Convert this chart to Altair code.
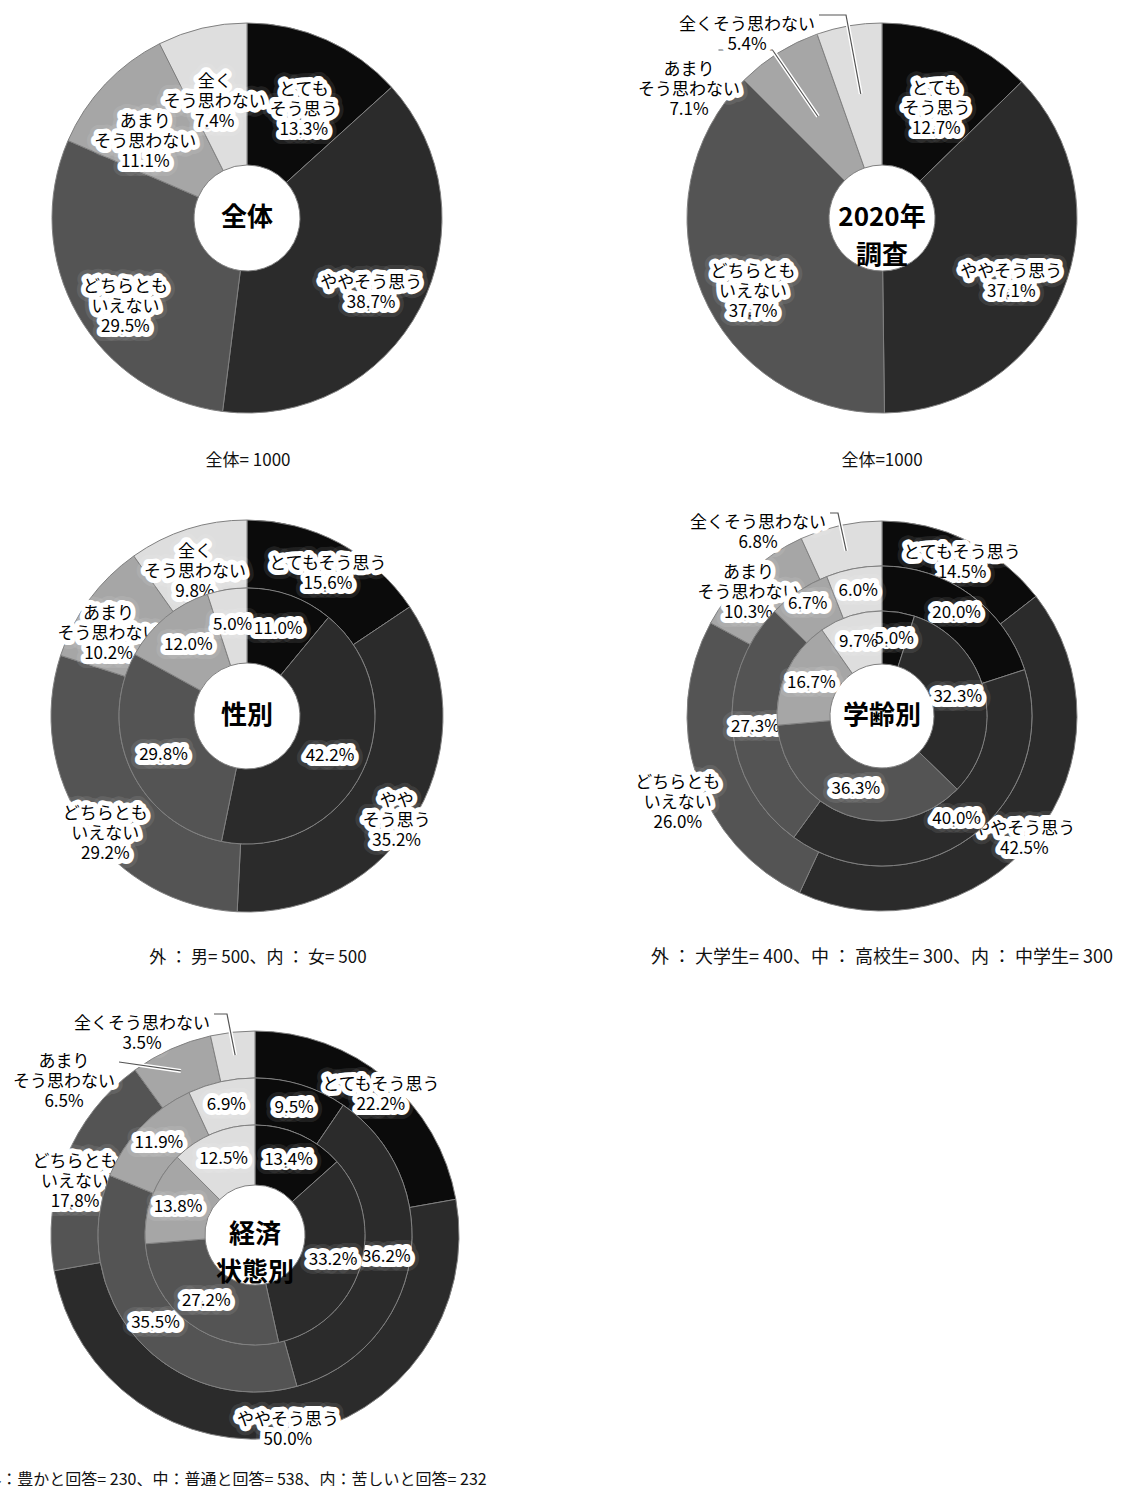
import math
import altair as alt
import pandas as pd

# ---------------- data ----------------
CATEGORIES = ["とてもそう思う", "ややそう思う", "どちらともいえない", "あまりそう思わない", "全くそう思わない"]

ZENTAI = [13.3, 38.7, 29.5, 11.1, 7.4]
Y2020 = [12.7, 37.1, 37.7, 7.1, 5.4]
MALE = [15.6, 35.2, 29.2, 10.2, 9.8]
FEMALE = [11.0, 42.2, 29.8, 12.0, 5.0]
UNIV = [14.5, 42.5, 26.0, 10.3, 6.8]
HIGH = [20.0, 40.0, 27.3, 6.7, 6.0]
JUNIOR = [5.0, 32.3, 36.3, 16.7, 9.7]
RICH = [22.2, 50.0, 17.8, 6.5, 3.5]
NORMAL = [9.5, 36.2, 35.5, 11.9, 6.9]
HARD = [13.4, 33.2, 27.2, 13.8, 12.5]

NAMES_A = ["とても\nそう思う", "ややそう思う", "どちらとも\nいえない", "あまり\nそう思わない", "全く\nそう思わない"]
NAMES_B = ["とても\nそう思う", "ややそう思う", "どちらとも\nいえない", "あまり\nそう思わない", "全くそう思わない"]
NAMES_C = ["とてもそう思う", "やや\nそう思う", "どちらとも\nいえない", "あまり\nそう思わない", "全く\nそう思わない"]
NAMES_D = ["とてもそう思う", "ややそう思う", "どちらとも\nいえない", "あまり\nそう思わない", "全くそう思わない"]

CENTER_TITLES = ["全体", "2020年\n調査", "性別", "学齢別", "経済\n状態別"]
CAPTIONS = [
    "全体=  1000",
    "全体=1000",
    "外 ： 男=  500、内 ： 女=  500",
    "外 ： 大学生=  400、中 ： 高校生=  300、内 ： 中学生=  300",
    "外：豊かと回答= 230、中：普通と回答= 538、内：苦しいと回答= 232",
]

# ---------------- style / layout ----------------
GRAYS = ["#0b0b0b", "#2b2b2b", "#545454", "#a6a6a6", "#dedede"]
FONT = "Noto Sans CJK JP"
LFS = 17
LH = 20

PANELS = [
    dict(cx=247, cy=218, cap=(248, 461, 17), rings=[(ZENTAI, NAMES_A, 53, 195, 140)]),
    dict(cx=882, cy=218, cap=(882, 461, 17), rings=[(Y2020, NAMES_B, 53, 195, 140)]),
    dict(cx=247, cy=716, cap=(258, 958, 17),
         rings=[(MALE, NAMES_C, 128, 196, 172), (FEMALE, None, 53, 128, 92)]),
    dict(cx=882, cy=716, cap=(882, 958, 18),
         rings=[(UNIV, NAMES_D, 150, 195, 182), (HIGH, None, 105, 150, 127), (JUNIOR, None, 52, 105, 78)]),
    dict(cx=255, cy=1235, cap=(236, 1480, 16),
         rings=[(RICH, NAMES_D, 157, 204, 188), (NORMAL, None, 110, 157, 133), (HARD, None, 50, 110, 82)]),
]

# label radius overrides: (panel, ring, category index) -> radius
LABEL_R = {(3, 0, 2): 215, (3, 0, 3): 196, (3, 1, 3): 134, (4, 0, 0): 196, (4, 0, 2): 194}
# outside labels: (panel, category index) -> (dx, dy, attach line, elbow, leader radius)
OUTSIDE = {
    (1, 3): (-193, -148, 0, 54, 120),
    (1, 4): (-135, -193, 0, 27, 126),
    (3, 4): (-124, -193, 0, 8, 169),
    (4, 4): (-113, -211, 0, 13, 181),
    (4, 3): (-191, -173, 1, 0, 180),
}

color_scale = alt.Scale(domain=CATEGORIES, range=GRAYS)


def halo_text(data, mark_kwargs, enc):
    glow = alt.Chart(data).mark_text(
        **mark_kwargs, color="white", stroke="white", strokeWidth=18,
        strokeJoin="round", strokeOpacity=0.3, opacity=0.3
    ).encode(**enc)
    halo = alt.Chart(data).mark_text(
        **mark_kwargs, color="white", stroke="white", strokeWidth=10,
        strokeJoin="round", strokeOpacity=1
    ).encode(**enc)
    fg = alt.Chart(data).mark_text(**mark_kwargs, color="black").encode(**enc)
    return [glow, halo, fg]


layers = []
out_rows = []
line_rows = []

for pi, p in enumerate(PANELS):
    cx, cy = p["cx"], p["cy"]
    for ri, (vals, names, r0, r1, lr) in enumerate(p["rings"]):
        total = sum(vals)
        cum = 0.0
        rows = []
        for ci, (cat, v) in enumerate(zip(CATEGORIES, vals)):
            mid = (cum + v / 2) / total * 2 * math.pi
            cum += v
            pct = f"{v:.1f}%"
            full = (names[ci] + "\n" + pct) if names is not None else pct
            rows.append(dict(cat=cat, idx=ci, value=v, full=full, radius=LABEL_R.get((pi, ri, ci), lr)))
            if ri == 0 and (pi, ci) in OUTSIDE:
                dx, dy, line_i, elbow, rlead = OUTSIDE[(pi, ci)]
                bx, by = cx + dx, cy + dy
                lines = full.split("\n")
                out_rows.append(dict(x=bx, y=by, t=full))
                ly = by - (len(lines) - 1) / 2 * LH + line_i * LH
                w = len(lines[line_i]) * LFS
                p2x = bx + w / 2 + 4
                p1x = p2x + elbow
                p0x = cx + rlead * math.sin(mid)
                p0y = cy - rlead * math.cos(mid)
                lid = f"{pi}-{ci}"
                line_rows += [dict(lid=lid, k=0, x=p2x, y=ly), dict(lid=lid, k=1, x=p1x, y=ly),
                              dict(lid=lid, k=2, x=p0x, y=p0y)]
        df = pd.DataFrame(rows)
        df["outside"] = [ri == 0 and (pi, i) in OUTSIDE for i in range(len(df))]

        arc = alt.Chart(df).mark_arc(
            innerRadius=r0, outerRadius=r1, stroke="#808080", strokeWidth=1
        ).encode(
            theta=alt.Theta("value:Q", stack="normalize"),
            color=alt.Color("cat:N", scale=color_scale, legend=None),
            order=alt.Order("idx:Q", sort="ascending"),
            x=alt.value(cx), y=alt.value(cy),
        )
        layers.append(arc)

        for rad in sorted(set(df["radius"])):
            d2 = df.copy()
            d2["lbl"] = [t if (r == rad and not o) else "" for t, r, o in zip(d2["full"], d2["radius"], d2["outside"])]
            enc = dict(
                theta=alt.Theta("value:Q", stack="normalize"),
                order=alt.Order("idx:Q", sort="ascending"),
                detail="cat:N",
                text="lbl:N",
                x=alt.value(cx), y=alt.value(cy),
            )
            mk = dict(radius=float(rad), font=FONT, fontSize=LFS, lineHeight=LH, lineBreak="\n",
                      align="center", baseline="middle")
            layers += halo_text(d2, mk, enc)

    # center title
    tdf = pd.DataFrame([dict(t=CENTER_TITLES[pi])])
    layers.append(alt.Chart(tdf).mark_text(
        font=FONT, fontSize=26, fontWeight="bold", lineHeight=38, lineBreak="\n",
        align="center", baseline="middle", color="black"
    ).encode(text="t:N", x=alt.value(cx), y=alt.value(cy)))

    # caption
    cdf = pd.DataFrame([dict(t=CAPTIONS[pi])])
    layers.append(alt.Chart(cdf).mark_text(
        font=FONT, fontSize=p["cap"][2], align="center", baseline="middle", color="#111111"
    ).encode(text="t:N", x=alt.value(p["cap"][0]), y=alt.value(p["cap"][1])))

# leader lines
ldf = pd.DataFrame(line_rows)
lenc = dict(x=alt.X("x:Q", scale=None), y=alt.Y("y:Q", scale=None),
            detail="lid:N", order=alt.Order("k:Q"))
layers.append(alt.Chart(ldf).mark_line(color="white", strokeWidth=4).encode(**lenc))
layers.append(alt.Chart(ldf).mark_line(color="#555555", strokeWidth=1.2).encode(**lenc))

# outside labels
odf = pd.DataFrame(out_rows)
oenc = dict(x=alt.X("x:Q", scale=None), y=alt.Y("y:Q", scale=None), text="t:N")
omk = dict(font=FONT, fontSize=LFS, lineHeight=LH, lineBreak="\n", align="center", baseline="middle")
layers += halo_text(odf, omk, oenc)

chart = alt.layer(*layers).properties(
    width=1134, height=1486,
    autosize=alt.AutoSizeParams(type="none"),
    padding=0,
    background="white",
).configure_view(stroke=None)

chart.save("out.html", embed_options={"renderer": "svg", "actions": False})
